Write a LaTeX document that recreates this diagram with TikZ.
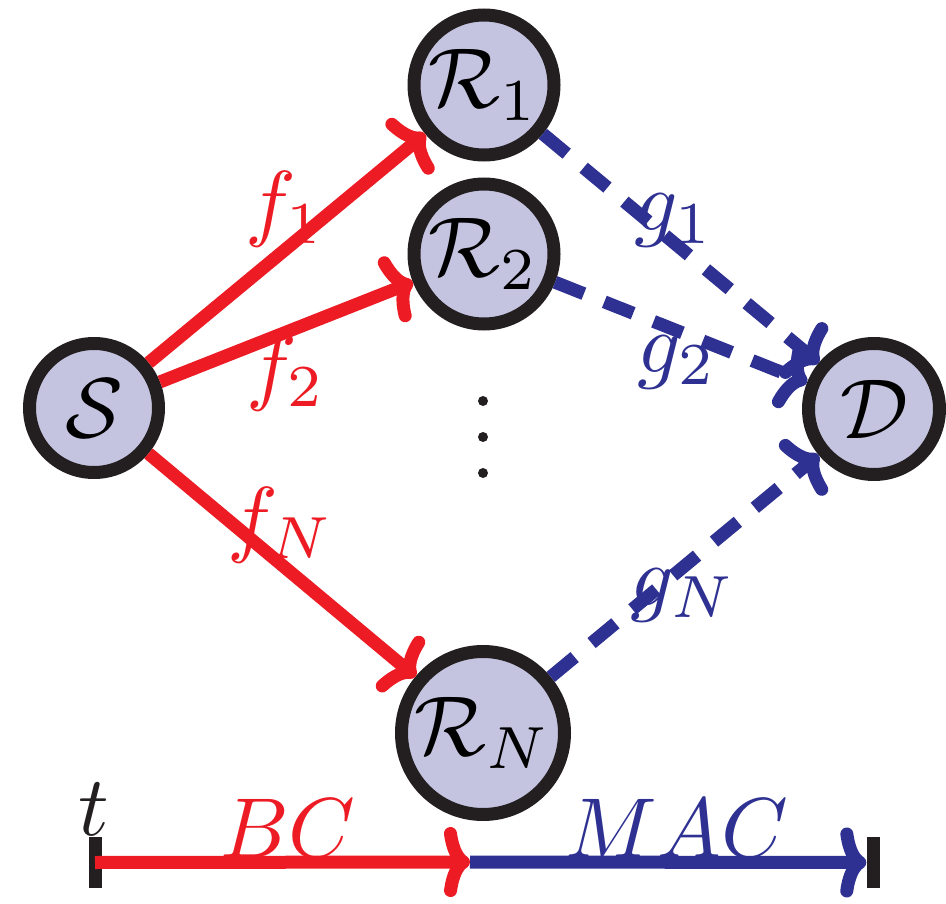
\documentclass[tikz,border=0pt]{standalone}
\usepackage{graphicx}
\usetikzlibrary{arrows.meta}
\definecolor{myred}{RGB}{237,28,36}
\definecolor{myblue}{RGB}{46,49,146}
\definecolor{myfill}{RGB}{197,196,224}
\definecolor{myblack}{RGB}{35,31,32}
\newcommand{\myscl}[1]{\scalebox{8.5}{#1}}
\begin{document}
\begin{tikzpicture}[x=1pt,y=-1pt,
  netnode/.style={circle, draw=myblack, fill=myfill, line width=13pt, inner sep=0pt},
  cmtip/.style={-{Computer Modern Rightarrow[length=26pt,width=70pt,line width=13pt]}},
  redarrow/.style={draw=myred, line width=13pt, cmtip},
  bluearrow/.style={draw=myblue, line width=13pt, dash pattern=on 31pt off 22pt, cmtip},
  redlbl/.style={text=myred, inner sep=0pt, anchor=base},
  bluelbl/.style={text=myblue, inner sep=0pt, anchor=base},
  dotnode/.style={circle, fill=myblack, minimum size=10pt, inner sep=0pt},
  barnode/.style={fill=myblack, minimum width=13pt, minimum height=51pt, inner sep=0pt},
]
\useasboundingbox (0,0) rectangle (946,904);
% nodes
\node[netnode, minimum size=129pt] (S) at (94,408) {\myscl{$\mathcal{S}$}};
\node[netnode, minimum size=140pt] (R1) at (484,85) {\myscl{$\mathcal{R}_1$}};
\node[netnode, minimum size=140pt] (R2) at (484,254) {\myscl{$\mathcal{R}_2$}};
\node[netnode, minimum size=163pt] (RN) at (483,733) {\myscl{$\mathcal{R}_N$}};
\node[netnode, minimum size=131pt] (D) at (874,409) {\myscl{$\mathcal{D}$}};
\node[dotnode] (d1) at (483,401) {};
\node[dotnode] (d2) at (483,437) {};
\node[dotnode] (d3) at (483,473) {};
% edges
\draw[redarrow] (S) -- (R1);
\draw[redarrow] (S) -- (R2);
\draw[redarrow] (S) -- (RN);
\draw[bluearrow] (R1) -- (D);
\draw[bluearrow] (R2) -- (D);
\draw[bluearrow] (RN) -- (D);
% edge labels
\node[redlbl] (f1) at (285,231) {\myscl{$f_1$}};
\node[redlbl] (f2) at (286,394) {\myscl{$f_2$}};
\node[redlbl] (fN) at (281,546) {\myscl{$f_N$}};
\node[bluelbl] (g1) at (674,231) {\myscl{$g_1$}};
\node[bluelbl] (g2) at (677,372) {\myscl{$g_2$}};
\node[bluelbl] (gN) at (683,605) {\myscl{$g_N$}};
% timeline
\node[barnode] (bar0) at (95,862.5) {};
\node[barnode] (bar1) at (873,862.5) {};
\coordinate (tm) at (470,862);
\draw[redarrow] (bar0.center) -- (tm);
\draw[bluearrow, dash pattern=] (tm) -- (bar1.west);
\node[inner sep=0pt, anchor=base, text=myblack] (t) at (94,835) {\myscl{$t$}};
\node[redlbl] (bc) at (288,857) {\myscl{$BC$}};
\node[bluelbl] (mac) at (677,857) {\myscl{$MAC$}};
\end{tikzpicture}
\end{document}
